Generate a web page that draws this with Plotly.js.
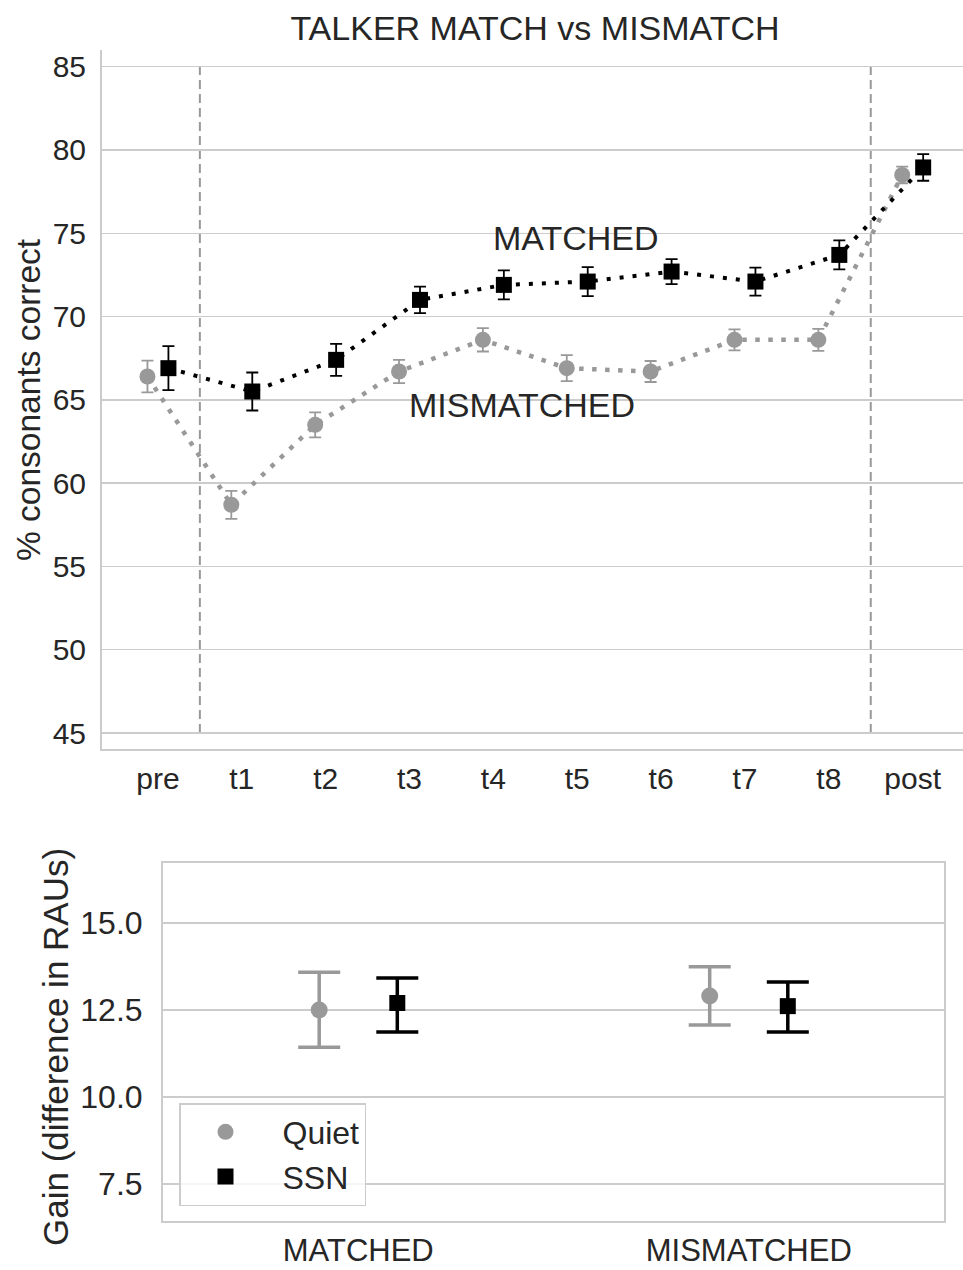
<!DOCTYPE html>
<html>
<head>
<meta charset="utf-8">
<script src="https://cdn.plot.ly/plotly-3.0.1.min.js"></script>
<style>html,body{margin:0;padding:0;background:#fff;}#chart{width:963px;height:1270px;}</style>
</head>
<body>
<div id="chart"></div>
<script>
// ---- Top panel data ----
const timepoints = ['pre','t1','t2','t3','t4','t5','t6','t7','t8','post'];
const mismatchedMean = [66.4, 58.7, 63.5, 66.7, 68.6, 66.9, 66.7, 68.6, 68.6, 78.5];
const mismatchedErr  = [0.95, 0.84, 0.75, 0.70, 0.70, 0.78, 0.63, 0.63, 0.66, 0.50];
const matchedMean    = [66.9, 65.5, 67.4, 71.0, 71.9, 72.1, 72.7, 72.1, 73.7, 78.95];
const matchedErr     = [1.32, 1.14, 0.96, 0.80, 0.87, 0.87, 0.75, 0.84, 0.87, 0.80];

// ---- Bottom panel data ----
const conditions = ['MATCHED', 'MISMATCHED'];
const quietGain      = [12.5, 12.9];
const quietErrPlus   = [1.08, 0.84];
const quietErrMinus  = [1.07, 0.83];
const ssnGain        = [12.7, 12.61];
const ssnErrPlus     = [0.72, 0.69];
const ssnErrMinus    = [0.83, 0.74];

const GRAY = '#999999';
const BLACK = '#000000';
const FONT = 'Liberation Sans, Arial, Helvetica, sans-serif';
const TXT = '#262626';

const idx = timepoints.map((_, i) => i);
const off = 0.125;
const cidx = conditions.map((_, i) => i);
const boff = 0.1;

const traces = [
  {
    x: idx.map(i => i - off), y: mismatchedMean, xaxis: 'x', yaxis: 'y',
    type: 'scatter', mode: 'lines+markers', showlegend: false,
    line: {color: GRAY, width: 4.5, dash: '4.5px,8.5px'},
    marker: {symbol: 'circle', size: 16, color: GRAY},
    error_y: {type: 'data', array: mismatchedErr, color: GRAY, thickness: 1.8, width: 6}
  },
  {
    x: idx.map(i => i + off), y: matchedMean, xaxis: 'x', yaxis: 'y',
    type: 'scatter', mode: 'lines+markers', showlegend: false,
    line: {color: BLACK, width: 4, dash: '4px,9px'},
    marker: {symbol: 'square', size: 16, color: BLACK},
    error_y: {type: 'data', array: matchedErr, color: BLACK, thickness: 1.8, width: 6}
  },
  {
    x: cidx.map(i => i - boff), y: quietGain, xaxis: 'x2', yaxis: 'y2',
    type: 'scatter', mode: 'markers', name: 'Quiet',
    marker: {symbol: 'circle', size: 17, color: GRAY},
    error_y: {type: 'data', symmetric: false, array: quietErrPlus, arrayminus: quietErrMinus, color: GRAY, thickness: 3.5, width: 21}
  },
  {
    x: cidx.map(i => i + boff), y: ssnGain, xaxis: 'x2', yaxis: 'y2',
    type: 'scatter', mode: 'markers', name: 'SSN',
    marker: {symbol: 'square', size: 16, color: BLACK},
    error_y: {type: 'data', symmetric: false, array: ssnErrPlus, arrayminus: ssnErrMinus, color: BLACK, thickness: 3.5, width: 21}
  }
];

const W = 963, H = 1270;
const layout = {
  width: W, height: H,
  margin: {l: 0, r: 0, t: 0, b: 0},
  paper_bgcolor: '#ffffff', plot_bgcolor: '#ffffff',
  font: {family: FONT, color: TXT, size: 30},
  showlegend: true,
  title: {text: 'TALKER MATCH vs MISMATCH', x: 535 / W, xanchor: 'center', y: 1 - 28 / H, yanchor: 'middle',
          font: {family: FONT, size: 34, color: TXT}},
  xaxis: {
    domain: [102 / W, 1], anchor: 'y',
    range: [-0.667, 9.6],
    tickmode: 'array', tickvals: idx, ticktext: timepoints,
    showgrid: false, zeroline: false,
    showline: true, linecolor: '#cccccc', linewidth: 2, mirror: false,
    ticks: '', ticklabelstandoff: 2,
    tickfont: {size: 30, color: TXT, family: FONT}
  },
  yaxis: {
    domain: [1 - 749 / H, 1 - 50 / H], anchor: 'x',
    range: [44.04, 86.0],
    tickmode: 'array', tickvals: [45, 50, 55, 60, 65, 70, 75, 80, 85],
    showgrid: true, gridcolor: '#cccccc', gridwidth: 1.5, zeroline: false,
    showline: true, linecolor: '#cccccc', linewidth: 2, mirror: false,
    ticks: '', ticklabelstandoff: 8,
    tickfont: {size: 30, color: TXT, family: FONT}
  },
  xaxis2: {
    domain: [163 / W, 944 / W], anchor: 'y2',
    range: [-0.5, 1.5],
    tickmode: 'array', tickvals: cidx, ticktext: conditions,
    showgrid: false, zeroline: false,
    showline: true, linecolor: '#cccccc', linewidth: 2, mirror: true,
    ticks: '', ticklabelstandoff: 1,
    tickfont: {size: 31, color: TXT, family: FONT}
  },
  yaxis2: {
    domain: [1 - 1221 / H, 1 - 863 / H], anchor: 'x2',
    range: [6.44, 16.72],
    tickmode: 'array', tickvals: [7.5, 10, 12.5, 15], ticktext: ['7.5', '10.0', '12.5', '15.0'],
    showgrid: true, gridcolor: '#cccccc', gridwidth: 1.5, zeroline: false,
    showline: true, linecolor: '#cccccc', linewidth: 2, mirror: true,
    ticks: '', ticklabelstandoff: 12,
    tickfont: {size: 32, color: TXT, family: FONT}
  },
  legend: {
    x: 179 / W, y: 1 - 1103 / H, xanchor: 'left', yanchor: 'top',
    bgcolor: 'rgba(255,255,255,0.8)', bordercolor: '#cccccc', borderwidth: 1.5,
    font: {size: 32, color: TXT, family: FONT},
    itemwidth: 104, indentation: -12
  },
  shapes: [0.5, 8.5].map(v => ({
    type: 'line', xref: 'x', yref: 'y', x0: v, x1: v, y0: 45, y1: 85,
    line: {color: GRAY, width: 2, dash: '9px,5px'}, layer: 'below'
  })),
  annotations: [
    {text: 'MATCHED', xref: 'x', yref: 'y', x: 4.98, y: 74.7, showarrow: false,
     font: {size: 34, color: TXT, family: FONT}, xanchor: 'center', yanchor: 'middle'},
    {text: 'MISMATCHED', xref: 'x', yref: 'y', x: 4.34, y: 64.7, showarrow: false,
     font: {size: 34, color: TXT, family: FONT}, xanchor: 'center', yanchor: 'middle'},
    {text: '% consonants correct', xref: 'paper', yref: 'paper', x: 28 / W, y: 1 - 400 / H,
     textangle: -90, showarrow: false, xanchor: 'center', yanchor: 'middle',
     font: {size: 33.5, color: TXT, family: FONT}},
    {text: 'Gain (difference in RAUs)', xref: 'paper', yref: 'paper', x: 55 / W, y: 1 - 1047 / H,
     textangle: -90, showarrow: false, xanchor: 'center', yanchor: 'middle',
     font: {size: 35, color: TXT, family: FONT}}
  ]
};

Plotly.newPlot('chart', traces, layout, {displayModeBar: false, staticPlot: true});
</script>
</body>
</html>
